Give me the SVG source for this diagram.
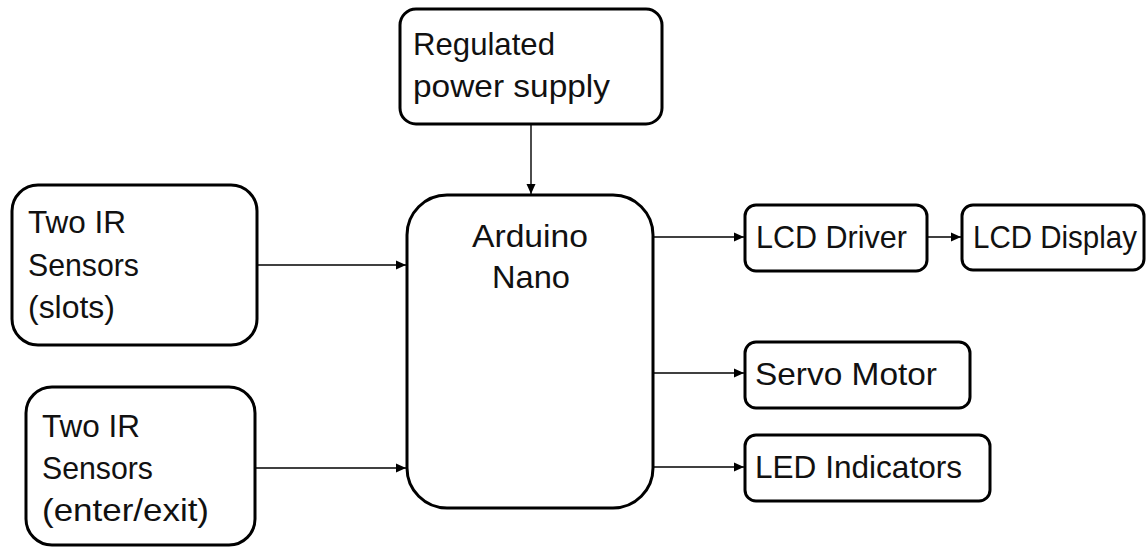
<svg xmlns="http://www.w3.org/2000/svg" width="1147" height="547" viewBox="0 0 1147 547">
  <style>
    .box { fill: #ffffff; stroke: #000000; stroke-width: 3; }
    .lbl { font-family: "Liberation Sans", Arial, sans-serif; font-size: 30.5px; fill: #111111; }
    .mid { text-anchor: middle; }
    .conn { stroke: #000000; stroke-width: 1.4; fill: none; marker-end: url(#arrow); }
  </style>
  <defs>
    <marker id="arrow" markerUnits="userSpaceOnUse" markerWidth="12" markerHeight="10" refX="10" refY="5" orient="auto">
      <polygon points="0,0.5 10,5 0,9.5" fill="#000000"/>
    </marker>
  </defs>
  <rect width="1147" height="547" fill="#ffffff"/>

  <g id="connectors">
    <line class="conn" x1="531" y1="124" x2="531" y2="194"/>
    <line class="conn" x1="257" y1="265" x2="406" y2="265"/>
    <line class="conn" x1="255" y1="468" x2="406" y2="468"/>
    <line class="conn" x1="653" y1="237" x2="744" y2="237"/>
    <line class="conn" x1="927" y1="237" x2="961" y2="237"/>
    <line class="conn" x1="653" y1="373" x2="744" y2="373"/>
    <line class="conn" x1="653" y1="467" x2="744" y2="467"/>
  </g>

  <g id="power">
    <rect class="box" x="400" y="9" width="262" height="115" rx="16"/>
    <text class="lbl" x="413" y="55" textLength="142" lengthAdjust="spacingAndGlyphs">Regulated</text>
    <text class="lbl" x="413" y="97" textLength="197" lengthAdjust="spacingAndGlyphs">power supply</text>
  </g>

  <g id="ir-slots">
    <rect class="box" x="12" y="185" width="245" height="160" rx="26"/>
    <text class="lbl" x="28" y="233" textLength="98" lengthAdjust="spacingAndGlyphs">Two IR</text>
    <text class="lbl" x="28" y="276" textLength="111" lengthAdjust="spacingAndGlyphs">Sensors</text>
    <text class="lbl" x="28" y="318" textLength="87" lengthAdjust="spacingAndGlyphs">(slots)</text>
  </g>

  <g id="ir-enter-exit">
    <rect class="box" x="26" y="387" width="229" height="158" rx="26"/>
    <text class="lbl" x="42" y="437" textLength="98" lengthAdjust="spacingAndGlyphs">Two IR</text>
    <text class="lbl" x="42" y="479" textLength="111" lengthAdjust="spacingAndGlyphs">Sensors</text>
    <text class="lbl" x="42" y="521" textLength="167" lengthAdjust="spacingAndGlyphs">(enter/exit)</text>
  </g>

  <g id="arduino">
    <rect class="box" x="407" y="195" width="246" height="313" rx="40"/>
    <text class="lbl mid" x="530" y="247" textLength="116" lengthAdjust="spacingAndGlyphs">Arduino</text>
    <text class="lbl mid" x="531" y="288" textLength="78" lengthAdjust="spacingAndGlyphs">Nano</text>
  </g>

  <g id="lcd-driver">
    <rect class="box" x="745" y="205" width="182" height="66" rx="11"/>
    <text class="lbl" x="756" y="248" textLength="151" lengthAdjust="spacingAndGlyphs">LCD Driver</text>
  </g>

  <g id="lcd-display">
    <rect class="box" x="962" y="205" width="182" height="65" rx="11"/>
    <text class="lbl" x="973" y="248" textLength="164" lengthAdjust="spacingAndGlyphs">LCD Display</text>
  </g>

  <g id="servo">
    <rect class="box" x="745" y="342" width="225" height="66" rx="11"/>
    <text class="lbl" x="755" y="385" textLength="182" lengthAdjust="spacingAndGlyphs">Servo Motor</text>
  </g>

  <g id="led">
    <rect class="box" x="745" y="435" width="245" height="66" rx="11"/>
    <text class="lbl" x="755" y="478" textLength="207" lengthAdjust="spacingAndGlyphs">LED Indicators</text>
  </g>
</svg>
